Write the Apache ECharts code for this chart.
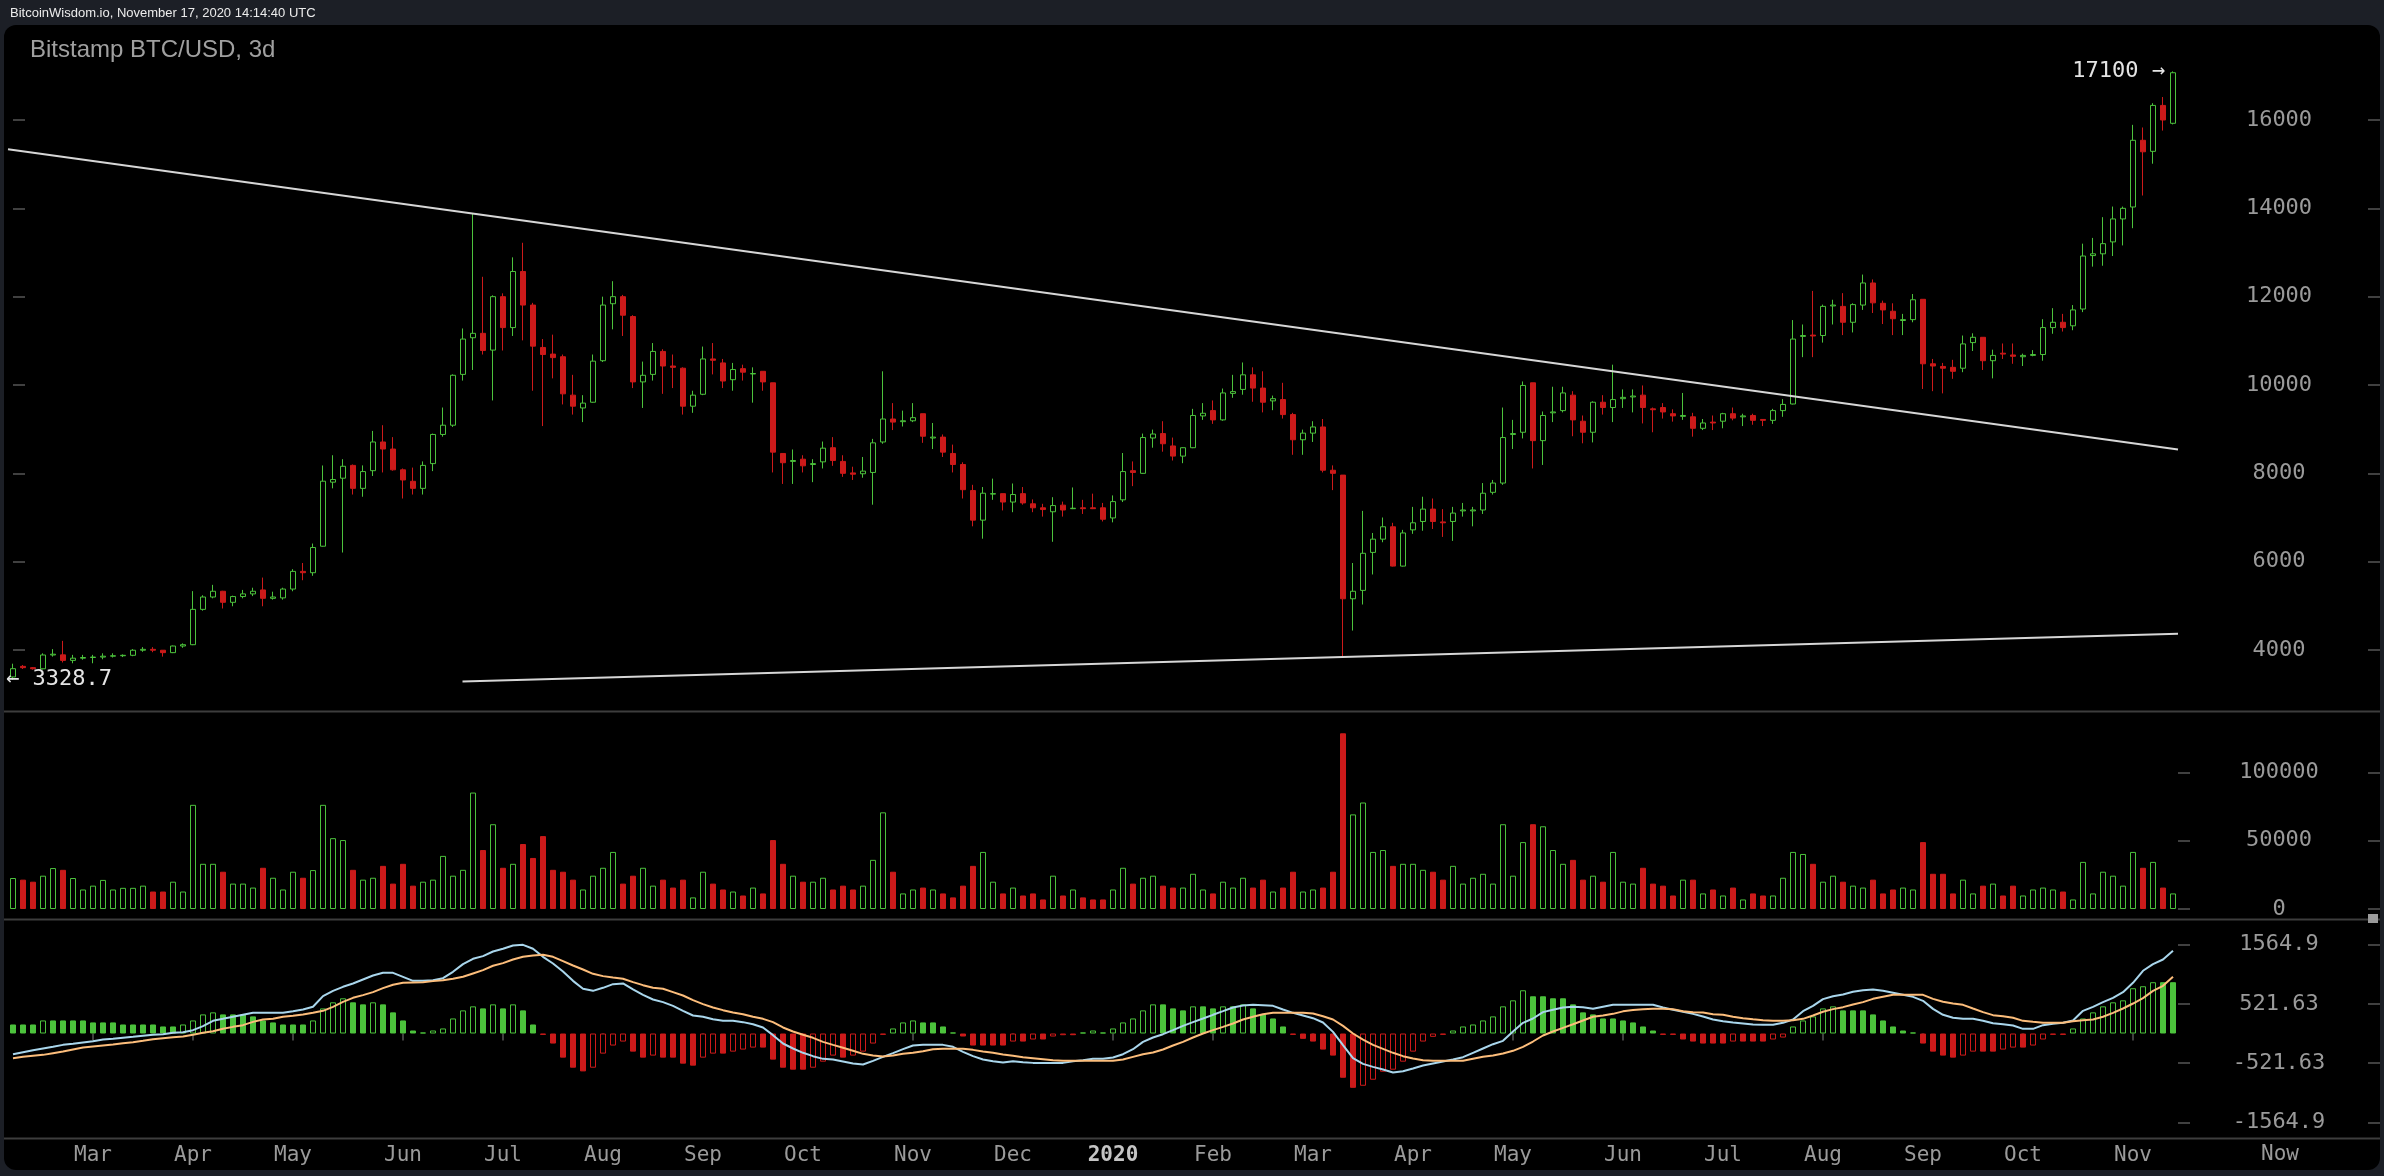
<!DOCTYPE html>
<html><head><meta charset="utf-8">
<script src="https://cdn.jsdelivr.net/npm/echarts@6/dist/echarts.min.js"></script>
<style>
html,body{margin:0;padding:0;background:#1c1f26;width:2384px;height:1176px;overflow:hidden}
#panel{position:absolute;left:4px;top:25px;width:2376px;height:1145px;background:#000;border-radius:12px}
#chart{position:absolute;left:0;top:0;width:2384px;height:1176px}
</style></head><body>
<div id="panel"></div><div id="chart"></div>
<script>
// ---- DATA ----
const firstCandleUTC = [2019, 1, 6];   // first 3-day candle: 2019-02-06
const candleDays = 3;
// [open, high, low, close]
const candles = [
[3390,3690,3328.7,3577],[3630,3660,3570,3600],[3600,3615,3555,3575],[3575,3925,3560,3887],[3887,4020,3850,3905],
[3890,4207,3718,3765],[3765,3890,3700,3815],[3815,3890,3780,3830],[3830,3890,3700,3840],[3840,3925,3790,3860],
[3860,3925,3830,3870],[3870,3900,3840,3880],[3880,4020,3860,3995],[3995,4065,3960,4015],[4015,4065,3950,3995],
[3995,4000,3850,3940],[3940,4100,3930,4090],[4090,4150,4050,4120],[4120,5333,4110,4920],[4920,5240,4890,5200],
[5200,5475,5170,5330],[5330,5340,4940,5080],[5080,5230,4990,5210],[5210,5360,5170,5270],[5270,5410,5220,5330],
[5360,5640,4990,5170],[5170,5320,5140,5200],[5180,5410,5140,5380],[5380,5830,5330,5780],[5780,5970,5580,5750],
[5750,6410,5680,6320],[6350,8178,6340,7822],[7800,8410,7660,7860],[7890,8320,6207,8160],[8180,8200,7520,7660],
[7660,8180,7470,8040],[8060,8960,7940,8710],[8710,9090,8020,8550],[8550,8820,8060,8080],[8080,8110,7430,7850],
[7820,8130,7520,7660],[7660,8270,7520,8180],[8220,8900,8050,8880],[8880,9490,8830,9090],[9090,10240,9050,10220],
[10240,11280,10100,11040],[11070,13880,10340,11170],[11170,12450,10690,10780],[10790,12030,9650,12000],[12000,12075,10780,11300],
[11300,12890,11110,12570],[12570,13220,11010,11810],[11810,11860,9870,10880],[10850,11040,9070,10690],[10700,11140,10150,10620],
[10640,10690,9560,9800],[9770,10230,9330,9520],[9480,9770,9160,9590],[9610,10690,9600,10540],[10550,12000,10520,11810],
[11840,12350,11260,12000],[12000,12040,11110,11580],[11550,11580,9930,10070],[10070,10530,9480,10220],[10240,10950,10100,10760],
[10760,10810,9800,10430],[10430,10690,9930,10400],[10380,10400,9330,9520],[9520,9870,9370,9770],[9790,10870,9770,10590],
[10590,10950,10240,10560],[10500,10590,9930,10090],[10120,10500,9870,10350],[10370,10460,10100,10290],[10250,10400,9600,10260],
[10310,10310,9870,10070],[10050,10050,8020,8480],[8450,8450,7760,8240],[8270,8540,7760,8290],[8320,8410,8020,8170],
[8200,8320,7800,8220],[8260,8720,8110,8570],[8580,8820,8170,8290],[8270,8410,7920,8000],[8010,8150,7850,7980],
[7990,8370,7900,8050],[8020,8780,7290,8690],[8710,10310,8670,9230],[9230,9590,8980,9160],[9170,9420,9060,9190],
[9190,9590,9160,9260],[9350,9350,8690,8840],[8800,9140,8550,8820],[8820,8880,8370,8480],[8450,8650,8020,8200],
[8200,8250,7430,7630],[7610,7740,6800,6940],[6940,7690,6520,7550],[7530,7880,7400,7540],[7540,7540,7160,7350],
[7350,7770,7120,7520],[7540,7690,7290,7330],[7310,7410,7120,7220],[7220,7310,7020,7180],[7130,7460,6450,7270],
[7280,7360,7020,7170],[7200,7680,7190,7210],[7220,7400,7080,7200],[7220,7540,7190,7200],[7220,7330,6910,6960],
[6990,7500,6890,7360],[7400,8460,7350,8040],[8060,8270,7710,8020],[8000,8900,7990,8810],[8800,8990,8580,8890],
[8900,9180,8490,8670],[8620,8810,8290,8390],[8390,8590,8230,8580],[8580,9460,8570,9310],[9300,9590,9210,9360],
[9420,9650,9120,9210],[9210,9920,9190,9820],[9810,10230,9710,9850],[9900,10510,9780,10230],[10230,10400,9620,9930],
[9930,10310,9380,9610],[9640,9760,9430,9690],[9670,10050,9240,9330],[9330,9370,8420,8760],[8760,8990,8420,8910],
[8910,9180,8710,9050],[9050,9230,8020,8070],[8070,8180,7620,8000],[7960,7960,3860,5160],[5160,5970,4440,5330],
[5350,7150,5030,6190],[6210,6650,5710,6510],[6510,7000,6440,6790],[6790,6880,5890,5900],[5900,6720,5890,6650],
[6720,7240,6630,6880],[6910,7470,6700,7190],[7190,7430,6740,6910],[6900,7190,6560,6880],[6910,7240,6470,7100],
[7150,7330,7020,7170],[7150,7240,6800,7170],[7170,7780,7080,7550],[7570,7850,7520,7780],[7780,9490,7740,8810],
[8880,9210,8550,8900],[8930,10080,8790,9990],[10050,10050,8110,8740],[8740,9400,8190,9310],[9370,9960,9160,9390],
[9420,9960,9380,9820],[9770,9860,8840,9210],[9180,9310,8680,8930],[8930,9630,8700,9610],[9610,9770,9330,9490],
[9490,10460,9160,9670],[9690,9900,9480,9720],[9730,9900,9380,9750],[9770,9990,9130,9490],[9460,9490,8930,9440],
[9490,9590,9240,9390],[9350,9450,9170,9300],[9290,9820,9210,9310],[9280,9370,8830,9020],[9020,9230,8980,9140],
[9160,9310,8980,9140],[9180,9370,9020,9350],[9350,9490,9200,9250],[9280,9350,9070,9300],[9310,9350,9100,9200],
[9220,9230,9070,9200],[9200,9460,9120,9420],[9420,9680,9280,9560],[9570,11470,9560,11040],[11100,11370,10630,11120],
[11130,12130,10630,11110],[11120,11820,10960,11780],[11790,11930,11370,11810],[11780,12080,11130,11420],[11420,11850,11190,11820],
[11810,12500,11700,12310],[12310,12390,11630,11860],[11850,11910,11380,11700],[11670,11850,11130,11500],[11460,11610,11130,11480],
[11480,12060,11420,11930],[11940,11940,9910,10480],[10480,10590,9860,10430],[10420,10500,9810,10380],[10400,10570,10140,10310],
[10380,11120,10290,10930],[10960,11170,10770,11080],[11080,11080,10340,10550],[10550,10800,10150,10670],[10720,10940,10590,10700],
[10680,10940,10480,10650],[10640,10710,10430,10670],[10670,10790,10650,10690],[10690,11490,10550,11300],[11300,11740,11160,11420],
[11420,11610,11210,11300],[11340,11810,11240,11700],[11720,13200,11650,12920],[12930,13330,12680,12970],[12970,13800,12700,13200],
[13240,14040,12920,13760],[13760,14040,13160,14000],[14030,15890,13550,15540],[15540,15830,14290,15280],[15290,16380,15010,16330],
[16330,16520,15760,16000],[15925,17100,15900,17070]
];
const volumes = [
22700,21500,20000,24400,30000,28700,22700,14300,17100,21300,14300,15500,15500,17100,12800,12800,20000,12800,76300,33100,
33100,27300,18600,18600,15700,30200,22900,14300,27300,22900,28500,76300,51900,50500,28700,21500,22900,31600,18600,33100,
17100,20000,21500,38900,24400,28700,85300,43200,62100,30200,33100,47600,37400,53400,28700,
27300,21500,14300,24400,30200,41800,18600,24400,30200,17100,21500,15700,21500,8500,27300,18600,14300,12800,9900,15700,
11400,50500,33100,24400,20000,20000,22900,14300,17100,14300,17100,36000,70800,27300,11400,14300,15700,14300,11400,8500,
17100,31600,41800,20000,11400,15700,9900,11400,7000,24400,9900,14300,8500,7000,
7000,14300,30200,18600,22900,24400,17100,15700,15700,25800,14300,11400,20000,15700,22900,15700,21500,12800,15700,27300,
12800,14300,15700,27300,128700,69300,78000,41800,43200,31600,33100,33100,28700,27300,21500,31600,18600,22900,25800,18600,
62100,24400,49000,62100,60600,43200,33100,36000,21500,24400,20000,41800,20000,18600,
30200,18600,17100,9900,21500,21500,11400,14300,9900,15700,7000,11400,9900,9900,22900,41800,40300,33100,20000,24400,
20000,17100,15700,21500,11400,14300,15700,14300,49000,25800,25800,11400,21500,11400,17100,18600,9900,17100,9900,14300,
15700,14300,12800,7000,34500,11400,27300,24400,17100,41800,30200,34500,15700,11400
];
const macdDif = [
-364,-329,-294,-264,-235,-200,-182,-158,-135,-106,-94,-76,-59,-41,-23,-12,12,23,59,129,223,258,294,329,364,364,364,364,393,423,
470,657,751,822,881,951,1021,1068,1068,998,927,927,939,974,1086,1221,1315,1362,1444,1491,1550,1561,1491,1350,1233,
1092,927,787,751,804,869,881,775,681,599,552,487,399,317,294,252,223,223,200,164,106,-29,-176,-264,-340,-399,-446,-458,-493,-528,
-546,-481,-411,-346,-276,-211,-200,-200,-200,-235,-323,-399,-458,-487,-511,-487,-505,-517,-517,-517,-517,-487,-470,-446,
-446,-423,-364,-276,-147,-70,-12,59,135,200,264,329,393,458,493,505,499,487,423,364,317,270,194,29,-205,-434,-534,-587,-634,-687,
-663,-616,-564,-528,-493,-458,-417,-340,-264,-188,-129,35,188,264,376,417,458,470,464,434,470,505,505,505,
505,505,458,417,382,346,299,247,217,194,176,158,153,153,188,247,393,487,605,657,687,734,763,775,751,716,681,646,575,434,
329,276,258,258,223,182,164,141,82,82,147,170,188,229,399,470,552,628,728,892,1104,1221,1303,1456
];
const macdDea = [
-434,-411,-393,-376,-346,-317,-282,-247,-229,-211,-194,-170,-153,-129,-100,-82,-65,-53,-23,12,41,82,117,147,205,247,258,294,311,335,
364,399,470,558,628,675,728,798,857,892,898,904,922,939,963,998,1057,1115,1192,1239,1303,1350,1374,1385,1350,
1274,1197,1127,1051,1010,986,963,904,851,804,787,728,669,587,517,458,411,370,340,294,258,200,106,35,-23,-76,-147,-200,-252,-305,
-358,-387,-405,-387,-358,-340,-311,-276,-270,-270,-270,-288,-317,-340,-370,-393,-417,-434,-452,-470,-481,-481,-481,-481,
-481,-481,-458,-411,-364,-335,-282,-211,-147,-70,0,59,117,176,247,294,340,364,364,364,364,352,305,247,135,0,-106,-200,-270,-340,
-399,-440,-470,-481,-481,-481,-481,-446,-411,-387,-352,-305,-235,-141,-35,35,100,164,229,294,317,346,390,414,
429,434,434,429,393,376,370,340,329,294,270,252,235,223,223,235,258,317,382,429,464,511,552,610,646,681,681,681,681,610,
558,528,505,440,376,323,305,276,223,205,188,188,188,217,235,247,294,364,440,528,622,751,839,998
];
const macdHist = [
159,159,159,230,230,230,230,230,195,195,195,159,159,159,159,124,124,159,230,336,372,336,336,336,301,230,195,159,159,159,
230,442,549,620,549,513,549,513,372,230,53,18,53,89,265,407,478,442,513,442,513,407,159,-24,-177,
-425,-602,-667,-602,-354,-212,-142,-319,-425,-389,-425,-425,-531,-566,-425,-354,-354,-319,-283,-248,-248,-460,-602,-637,-637,
-602,-496,-389,-425,-389,-319,-177,-24,89,195,230,195,195,124,18,-53,-212,-212,-212,-212,-142,-142,-106,-106,-53,-30,-30,18,53,
18,89,195,265,407,513,513,442,407,478,478,442,478,478,513,442,336,265,124,-24,-94,-142,-283,-389,-779,-956,-920,-814,-673,-637,
-496,-319,-142,-59,-24,53,124,159,230,301,478,584,761,655,655,620,620,513,372,336,265,265,230,195,
124,53,-24,-24,-106,-142,-177,-177,-177,-142,-142,-142,-142,-106,-71,124,230,301,442,478,407,407,407,336,230,124,53,18,-177,-319,
-389,-425,-389,-319,-319,-319,-283,-248,-248,-212,-106,-24,-24,89,265,372,478,549,584,797,832,903,903,903
];
// trend lines in [candle index, price]
const trendUpper = [[-0.5, 15336], [216.5, 8539]];
const trendLower = [[44.95, 3289], [216.5, 4367]];
// tick labels
const xTickLabels = ['Mar','Apr','May','Jun','Jul','Aug','Sep','Oct','Nov','Dec','2020','Feb','Mar','Apr','May','Jun','Jul','Aug','Sep','Oct','Nov'];
const priceTicks = [4000, 6000, 8000, 10000, 12000, 14000, 16000];
const volumeTicks = [0, 50000, 100000];
const macdTicks = [-1564.9, -521.63, 521.63, 1564.9];

// ---- derived ----
const N = candles.length;
const t0 = Date.UTC(firstCandleUTC[0], firstCandleUTC[1], firstCandleUTC[2]);
const categories = candles.map((_, i) => new Date(t0 + i * candleDays * 86400000).toISOString().slice(0, 10));
const tickLabelAt = {};
let k = 0;
for (let i = 1; i < N; i++) {
  if (categories[i].slice(5, 7) !== categories[i - 1].slice(5, 7)) tickLabelAt[i] = xTickLabels[k++];
}
const isTick = (i) => tickLabelAt[i] !== undefined;

const GREEN = '#4cc23c', RED = '#cc1a1a', AX = '#9a9a9a', TICK = '#555';
const MONO = 'DejaVu Sans Mono';

let hiIdx = 0, loIdx = 0;
candles.forEach((c, i) => { if (c[1] > candles[hiIdx][1]) hiIdx = i; if (c[2] < candles[loIdx][2]) loIdx = i; });
const hiVal = candles[hiIdx][1], loVal = candles[loIdx][2];

const hollow = (col) => ({ color: '#000', borderColor: col, borderWidth: 1 });
const solid = (col) => ({ color: col, borderColor: col, borderWidth: 1 });

const volData = volumes.map((v, i) => ({ value: v, itemStyle: candles[i][3] >= candles[i][0] ? hollow(GREEN) : solid(RED) }));
const histData = macdHist.map((v, i) => {
  const col = v >= 0 ? GREEN : RED;
  const rising = i > 0 && v > macdHist[i - 1];
  return { value: v, itemStyle: rising ? hollow(col) : solid(col) };
});

function catAxis(grid, show) {
  return {
    type: 'category', gridIndex: grid, data: categories, boundaryGap: true,
    axisLine: { show: false },
    axisTick: { show: show, alignWithLabel: true, interval: (i) => isTick(i), length: 7, lineStyle: { color: TICK, width: 1.5 } },
    axisLabel: {
      show: show, interval: (i) => isTick(i), margin: 6,
      formatter: (v, i) => { const t = tickLabelAt[i] || ''; return /^\d{4}$/.test(t) ? '{y|' + t + '}' : '{m|' + t + '}'; },
      rich: {
        m: { color: AX, fontFamily: MONO, fontSize: 21 },
        y: { color: '#c4c4c4', fontFamily: MONO, fontSize: 21, fontWeight: 'bold' }
      }
    },
    splitLine: { show: false }
  };
}
function yAx(grid, min, max, vals, showLabel, offset) {
  return {
    type: 'value', gridIndex: grid, position: 'right', min: min, max: max, offset: offset || 0,
    axisLine: { show: false }, splitLine: { show: false },
    axisTick: { show: true, length: 12, customValues: vals, lineStyle: { color: TICK, width: 1.5 } },
    axisLabel: { show: showLabel, customValues: vals, formatter: (v) => String(v), color: AX, fontFamily: MONO, fontSize: 22, align: 'center', margin: 101 }
  };
}

const chart = echarts.init(document.getElementById('chart'), null, { renderer: 'canvas' });
chart.setOption({
  animation: false,
  backgroundColor: 'transparent',
  title: [
    { text: 'BitcoinWisdom.io, November 17, 2020 14:14:40 UTC', left: 10, top: 7, padding: 0,
      textStyle: { color: '#ececec', fontSize: 13, fontFamily: 'Liberation Sans', fontWeight: 'normal' } },
    { text: 'Bitstamp BTC/USD, 3d', left: 30, top: 38, padding: 0,
      textStyle: { color: '#a0a0a0', fontSize: 24, fontFamily: 'Liberation Sans', fontWeight: 'normal' } }
  ],
  grid: [
    { left: 8, right: 206, top: 26, height: 685 },
    { left: 8, right: 206, top: 712, height: 197 },
    { left: 8, right: 206, top: 920, height: 219 }
  ],
  xAxis: [
    catAxis(0, false), catAxis(1, false), catAxis(2, true),
    { type: 'value', gridIndex: 0, min: -0.5, max: N - 0.5, show: false }
  ],
  yAxis: [
    yAx(0, 2619, 18128, priceTicks, true, 0),
    yAx(0, 2619, 18128, priceTicks, false, 190),
    yAx(1, 0, 144300, volumeTicks, true, 0),
    yAx(1, 0, 144300, volumeTicks, false, 190),
    yAx(2, -1857, 1998, macdTicks, true, 0),
    yAx(2, -1857, 1998, macdTicks, false, 190)
  ],
  series: [
    {
      type: 'candlestick', xAxisIndex: 0, yAxisIndex: 0, barWidth: 6,
      data: candles.map(c => [c[0], c[3], c[2], c[1]]),
      itemStyle: { color: '#000', color0: RED, borderColor: GREEN, borderColor0: RED, borderWidth: 1 },
      markPoint: {
        symbol: 'rect', symbolSize: 0, silent: true,
        label: { show: true, color: '#e4e4e4', fontFamily: MONO, fontSize: 22 },
        data: [
          { coord: [hiIdx, hiVal], label: { position: 'left', distance: 8, formatter: hiVal + ' \u2192' } },
          { coord: [loIdx, loVal], label: { position: 'right', distance: 0, offset: [-7, 0], formatter: '\u2190 ' + loVal } }
        ]
      }
    },
    { type: 'line', xAxisIndex: 3, yAxisIndex: 0, data: trendUpper, symbol: 'none', silent: true,
      lineStyle: { color: '#d6d6d6', width: 2 } },
    { type: 'line', xAxisIndex: 3, yAxisIndex: 0, data: trendLower, symbol: 'none', silent: true,
      lineStyle: { color: '#d6d6d6', width: 2 } },
    { type: 'bar', xAxisIndex: 1, yAxisIndex: 2, barWidth: 6, data: volData },
    { type: 'bar', xAxisIndex: 2, yAxisIndex: 4, barWidth: 6, data: histData },
    { type: 'line', xAxisIndex: 2, yAxisIndex: 4, data: macdDif, symbol: 'none', silent: true,
      lineStyle: { color: '#a9d6ec', width: 2 } },
    { type: 'line', xAxisIndex: 2, yAxisIndex: 4, data: macdDea, symbol: 'none', silent: true,
      lineStyle: { color: '#fcbd7b', width: 2 } }
  ],
  graphic: [
    { type: 'line', silent: true, shape: { x1: 4, y1: 711.5, x2: 2380, y2: 711.5 }, style: { stroke: '#3d3d3d', lineWidth: 2 } },
    { type: 'line', silent: true, shape: { x1: 4, y1: 919.5, x2: 2380, y2: 919.5 }, style: { stroke: '#3d3d3d', lineWidth: 2 } },
    { type: 'line', silent: true, shape: { x1: 4, y1: 1138.5, x2: 2380, y2: 1138.5 }, style: { stroke: '#3d3d3d', lineWidth: 2 } },
    { type: 'rect', silent: true, shape: { x: 2368, y: 914, width: 10, height: 9 }, style: { fill: '#9a9a9a' } },
    { type: 'text', silent: true, x: 2280, y: 1155,
      style: { text: 'Now', fill: AX, font: '21px "DejaVu Sans Mono"', align: 'center', verticalAlign: 'middle' } }
  ]
});
</script>
</body></html>
